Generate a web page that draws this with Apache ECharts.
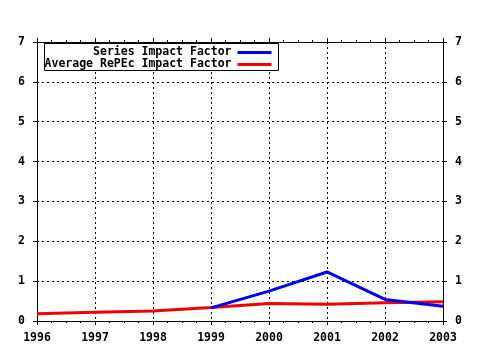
<!DOCTYPE html>
<html>
<head>
<meta charset="utf-8">
<script src="https://cdn.jsdelivr.net/npm/echarts@6/dist/echarts.min.js"></script>
<style>
  html, body { margin: 0; padding: 0; background: #fff; }
  #chart { width: 480px; height: 350px; }
</style>
</head>
<body>
<div id="chart"></div>
<script>
// Impact factor by year
var years = [1996, 1997, 1998, 1999, 2000, 2001, 2002, 2003];
var seriesYears = [1999, 2000, 2001, 2002, 2003];
var seriesImpact = [0.33, 0.75, 1.23, 0.54, 0.37];
var averageImpact = [0.18, 0.22, 0.25, 0.34, 0.44, 0.42, 0.46, 0.48];
var seriesNames = ['Series Impact Factor', 'Average RePEc Impact Factor'];

var FONT = 'DejaVu Sans Mono';
var labelStyle = { fontFamily: FONT, fontWeight: 'bold', fontSize: 11.5, color: '#000' };
var dotted = { color: '#000', width: 1, type: [2, 3] };

function pairs(xs, ys) {
  return xs.map(function (x, i) { return [x, ys[i]]; });
}

function xAxisDef(pos, showLabels) {
  return {
    type: 'value', position: pos, min: 1996, max: 2003, interval: 1,
    axisLine: { show: true, onZero: false, lineStyle: { color: '#000', width: 1 } },
    axisTick: { show: true, length: 4, lineStyle: { color: '#000' } },
    minorTick: { show: true, splitNumber: 4, length: 2, lineStyle: { color: '#000' } },
    axisLabel: Object.assign({ show: showLabels, margin: 11, formatter: function (v) { return String(v); } }, labelStyle),
    splitLine: { show: showLabels, lineStyle: dotted }
  };
}

function yAxisDef(pos, showGrid) {
  return {
    type: 'value', position: pos, min: 0, max: 7, interval: 1,
    axisLine: { show: true, lineStyle: { color: '#000', width: 1 } },
    axisTick: { show: true, length: 4, lineStyle: { color: '#000' } },
    axisLabel: Object.assign({ margin: 12 }, labelStyle),
    splitLine: { show: showGrid, lineStyle: dotted }
  };
}

function legendDef(name, top) {
  return {
    data: [name], right: 207, top: top, align: 'right',
    itemWidth: 34, itemHeight: 3, itemGap: 0, padding: 0,
    textStyle: Object.assign({ padding: [0, 1, 0, 0] }, labelStyle),
    itemStyle: { opacity: 0 },
    lineStyle: { width: 3 },
    z: 6
  };
}

var option = {
  animation: false,
  backgroundColor: '#fff',
  grid: { left: 37, right: 37, top: 42, bottom: 29 },
  xAxis: [xAxisDef('bottom', true), xAxisDef('top', false)],
  yAxis: [yAxisDef('left', true), yAxisDef('right', false)],
  legend: [legendDef(seriesNames[0], 46.5), legendDef(seriesNames[1], 58.5)],
  graphic: [{
    type: 'rect',
    shape: { x: 44.5, y: 43.5, width: 234, height: 27 },
    style: { fill: '#fff', stroke: '#000', lineWidth: 1 },
    z: 5
  }],
  series: [
    {
      name: seriesNames[0], type: 'line', data: pairs(seriesYears, seriesImpact),
      showSymbol: false, symbol: 'none', color: '#0000f0',
      lineStyle: { width: 3, color: '#0000f0' }, z: 4
    },
    {
      name: seriesNames[1], type: 'line', data: pairs(years, averageImpact),
      showSymbol: false, symbol: 'none', color: '#f00000',
      lineStyle: { width: 3, color: '#f00000' }, z: 3
    }
  ]
};

var chart = echarts.init(document.getElementById('chart'), null, { renderer: 'canvas' });
chart.setOption(option);
</script>
</body>
</html>
